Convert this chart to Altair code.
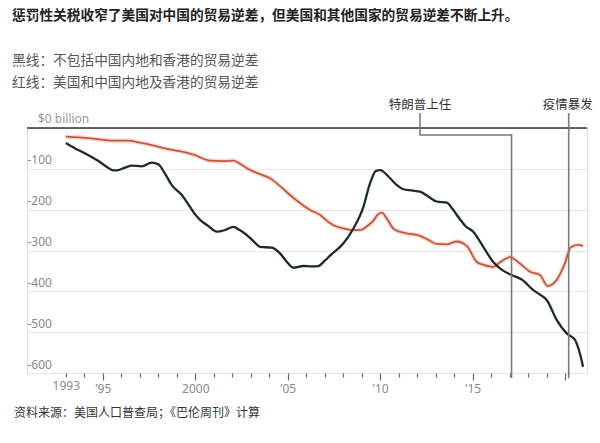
import altair as alt
import pandas as pd

# ---- data ----
black_years = [1993.0, 1993.5, 1994.2, 1994.76, 1995.2, 1995.5, 1995.75, 1996.2, 1996.57, 1997.1,
               1997.65, 1998.0, 1998.4, 1998.73, 1999.27, 1999.6, 1999.95, 2000.26, 2000.7, 2001.16,
               2001.6, 2002.06, 2002.4, 2002.78, 2003.1, 2003.5, 2004.14, 2004.58, 2004.9, 2005.3,
               2005.84, 2006.3, 2006.65, 2007.0, 2007.3, 2008.0, 2008.55, 2009.09, 2009.45, 2009.77,
               2010.0, 2010.53, 2010.9, 2011.25, 2011.7, 2012.15, 2012.6, 2013.05, 2013.6, 2013.9,
               2014.27, 2014.6, 2015.03, 2015.57, 2016.11, 2016.6, 2017.1, 2017.65, 2018.28, 2018.7,
               2019.0, 2019.54, 2020.08, 2020.53, 2020.75, 2020.97]
black_vals = [-37, -50, -66, -81, -95, -103, -104, -97, -92, -94,
              -85, -89, -115, -140, -164, -185, -209, -225, -240, -254,
              -250, -242, -250, -262, -275, -291, -293, -307, -325, -342,
              -338, -339, -338, -325, -312, -283, -246, -193, -135, -105,
              -103, -123, -140, -150, -153, -156, -168, -180, -183, -198,
              -221, -240, -254, -291, -328, -348, -360, -371, -397, -410,
              -421, -470, -503, -519, -545, -585]

red_years = [1993.0, 1994.2, 1995.0, 1995.66, 1996.4, 1997.0, 1997.65, 1998.55, 1999.3, 1999.95,
             2000.8, 2001.5, 2002.06, 2002.5, 2002.96, 2003.5, 2004.04, 2004.6, 2005.12, 2005.7,
             2006.2, 2006.75, 2007.25, 2007.47, 2008.0, 2008.5, 2008.9, 2009.3, 2009.63, 2009.85,
             2010.08, 2010.4, 2010.7, 2011.0, 2011.43, 2012.15, 2012.6, 2013.05, 2013.6, 2013.77,
             2014.14, 2014.7, 2015.22, 2015.6, 2016.11, 2016.5, 2017.02, 2017.5, 2018.1, 2018.64,
             2019.05, 2019.54, 2019.99, 2020.3, 2020.7, 2020.97]
red_vals = [-21, -25, -29, -31, -31, -36, -42, -52, -58, -66,
            -80, -81, -80, -90, -103, -113, -123, -143, -164, -185,
            -201, -213, -232, -238, -246, -250, -250, -240, -227, -213,
            -207, -225, -246, -253, -258, -264, -274, -284, -285, -283,
            -278, -290, -328, -335, -340, -328, -316, -330, -352, -360,
            -387, -372, -331, -292, -286, -289]

tick_years = list(range(1993, 2021))
tick_labels = {1993: "1993", 1995: "’95", 2000: "2000", 2005: "’05", 2010: "’10", 2015: "’15"}
y_ticks = [-100, -200, -300, -400, -500, -600]

title_text = "惩罚性关税收窄了美国对中国的贸易逆差，但美国和其他国家的贸易逆差不断上升。"
sub1 = "黑线：不包括中国内地和香港的贸易逆差"
sub2 = "红线：美国和中国内地及香港的贸易逆差"
source_text = "资料来源：美国人口普查局；《巴伦周刊》计算"
zero_label = "$0 billion"
events = ["特朗普上任", "疫情暴发"]
event_years = [2017.1, 2020.19]

# ---- tables ----
black_df = pd.DataFrame({"year": black_years, "value": black_vals})
red_df = pd.DataFrame({"year": red_years, "value": red_vals})

CJK = "Noto Sans CJK SC"
NUM = "Noto Sans"

label_expr = " : ".join(
    [f"datum.value == {k} ? '{v}'" for k, v in tick_labels.items()]
) + " : ''"

x_axis = alt.Axis(values=tick_years, domain=False, grid=False, title=None,
                  tickColor="#666", tickWidth=1.2,
                  tickSize={"condition": {"test": "datum.value % 5 == 0", "value": 7}, "value": 4},
                  labelExpr=label_expr, labelColor="#8a8a8a", labelFontSize=12,
                  labelFont=NUM, labelPadding=3, labelOverlap=False, labelFlush=False)
y_axis = alt.Axis(values=y_ticks, domain=False, ticks=False, tickSize=0, title=None,
                  labelAlign="left", labelBaseline="bottom", labelPadding=0, labelOffset=-2,
                  labelExpr="'-' + abs(datum.value)", labelColor="#8a8a8a", labelFontSize=12,
                  labelFont=NUM, labelOverlap=False, labelFlush=False,
                  gridColor="#e6e6e6", gridWidth=1)

xs = alt.Scale(domain=[1990.9, 2021.18], nice=False, zero=False)
ys = alt.Scale(domain=[-600, 0], nice=False, zero=False)
X = alt.X("year:Q", scale=xs, axis=x_axis)
Y = alt.Y("value:Q", scale=ys, axis=y_axis)

base_zero = alt.Chart(pd.DataFrame({"value": [0]})).mark_rule(
    color="#333", strokeWidth=1.5).encode(y=Y)

red_glow = alt.Chart(red_df).mark_line(color="#f2b9a8", strokeWidth=4.5, opacity=0.5,
                                       interpolate="monotone").encode(x=X, y=Y)
red_line = alt.Chart(red_df).mark_line(color="#c4583f", strokeWidth=1.8,
                                       interpolate="monotone").encode(x=X, y=Y)
black_line = alt.Chart(black_df).mark_line(color="#1e2b26", strokeWidth=2.3,
                                           interpolate="monotone").encode(x=X, y=Y)

# annotation connectors (Trump label is offset to the left, elbow to the event line)
ann_df = pd.DataFrame({
    "year": [2012.15, 2012.15, event_years[0], event_years[0], event_years[1], event_years[1]],
    "value": [37, -17, -17, -612, 37, -612],
    "group": ["t", "t", "t", "t", "c", "c"],
    "order": [0, 1, 2, 3, 0, 1],
})
ann_lines = alt.Chart(ann_df).mark_line(color="#7a7a7a", strokeWidth=1.6).encode(
    x=X, y=Y, detail="group:N", order="order:Q")

ann_text_df = pd.DataFrame({"year": [2012.15, event_years[1] - 0.05], "value": [56, 56],
                            "label": events})
ann_text = alt.Chart(ann_text_df).mark_text(
    font=CJK, fontSize=12.5, color="#333", align="center", baseline="middle").encode(
    x=X, y=Y, text="label:N")

zero_text = alt.Chart(pd.DataFrame({"value": [0], "label": [zero_label]})).mark_text(
    font=NUM, fontSize=12, color="#9a9a9a", align="left", baseline="bottom", dy=-2).encode(
    x=alt.value(11), y=Y, text="label:N")


def txt(text, x, y, size, color, weight="normal"):
    return alt.Chart(alt.Data(values=[{}])).mark_text(
        text=text, font=CJK, fontSize=size, color=color, fontWeight=weight,
        align="left", baseline="middle").encode(x=alt.value(x), y=alt.value(y))


title = txt(title_text, -15, -112, 13.7, "#222", "bold")
s1 = txt(sub1, -15, -67, 13.7, "#555")
s2 = txt(sub2, -15, -45, 13.7, "#555")
src = txt(source_text, -13, 285, 12, "#333")

chart = alt.layer(
    base_zero, red_glow, red_line, black_line, ann_lines, ann_text, zero_text,
    title, s1, s2, src
).properties(
    width=560, height=245,
    padding={"left": 27, "top": 128, "right": 13, "bottom": 70},
    autosize=alt.AutoSizeParams(type="none"),
).configure_view(stroke=None).configure(background="white")

chart.save("out.html", embed_options={"renderer": "svg", "actions": False})
